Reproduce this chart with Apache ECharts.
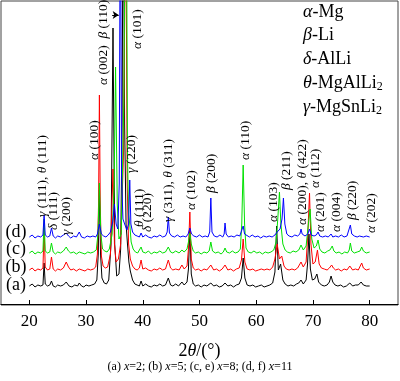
<!DOCTYPE html>
<html><head><meta charset="utf-8">
<script src="https://cdn.jsdelivr.net/npm/echarts@6/dist/echarts.min.js"></script>
<style>html,body{margin:0;padding:0;background:#fff}#c{width:400px;height:381px}</style>
</head><body><div id="c"></div>
<script>
// (a) x=2  black
const traceA = [[20,18],[20.5,20],[21,17],[21.5,19],[22,18],[22.4,19],[22.6,41],[22.8,20],[23.2,18],[23.6,19],[23.9,23],[24.2,18],[24.6,17],[25,19],[25.5,18],[26,19],[26.5,22],[27,18],[27.5,17],[28,19],[28.5,18],[28.8,21],[29.2,18],[29.6,17],[30,19],[30.5,18],[31,19],[31.5,20],[31.9,24],[32.15,50],[32.35,114],[32.55,50],[32.8,26],[33.2,21],[33.6,20],[34,24],[34.4,60],[34.75,276],[35.05,60],[35.4,28],[35.8,30],[36.1,55],[36.35,180],[36.55,450],[36.8,180],[37.05,80],[37.3,60],[37.55,42],[37.8,33],[38.2,24],[38.6,20],[39,19],[39.4,18],[39.7,23],[40,18],[40.5,20],[41,18],[41.5,17],[42,19],[42.5,18],[43,20],[43.5,18],[44,19],[44.5,26],[44.9,19],[45.3,18],[45.8,20],[46.3,18],[46.9,22],[47.3,19],[47.8,22],[48.05,35],[48.3,74],[48.55,30],[48.9,20],[49.3,18],[49.8,19],[50.3,17],[50.8,19],[51.3,18],[52,21],[52.5,18],[53,19],[53.5,17],[54,18],[54.5,21],[55,18],[55.5,19],[56,17],[56.5,19],[57,20],[57.4,26],[57.7,46],[58,26],[58.4,19],[58.9,18],[59.4,19],[59.9,17],[60.4,18],[60.9,19],[61.4,17],[61.9,18],[62.4,19],[62.9,21],[63.3,32],[63.6,78],[63.9,34],[64.3,40],[64.7,24],[65.1,20],[65.6,18],[66.1,19],[66.6,18],[67.1,20],[67.5,21],[67.9,24],[68.3,20],[68.8,24],[69.05,40],[69.3,70],[69.55,35],[69.9,24],[70.3,25],[70.7,30],[71.0,22],[71.5,19],[72,18],[72.5,19],[72.9,22],[73.2,28],[73.5,22],[73.9,19],[74.4,18],[74.9,19],[75.4,17],[75.9,18],[76.5,21],[77,18],[77.5,19],[78,19],[78.5,22],[78.9,19],[79.4,18],[80,18]];
// (b) x=5  red
const traceB = [[20,34],[20.5,36],[21,33],[21.5,35],[22,34],[22.4,36],[22.6,76],[22.8,37],[23.2,34],[23.6,35],[23.9,47],[24.2,35],[24.6,33],[25,35],[25.5,34],[26,36],[26.5,42],[26.9,37],[27.3,34],[27.8,35],[28.3,33],[28.8,35],[29.3,34],[29.8,33],[30.3,35],[30.8,34],[31.3,35],[31.7,37],[32.0,50],[32.2,100],[32.35,209],[32.5,100],[32.7,48],[33.0,38],[33.4,36],[33.8,37],[34.3,50],[34.75,135],[35.0,60],[35.3,42],[35.7,45],[36.1,60],[36.6,150],[37.0,420],[37.25,120],[37.5,60],[37.8,45],[38.2,38],[38.6,35],[39,34],[39.4,36],[39.7,44],[40,35],[40.5,36],[41,34],[41.5,33],[42,35],[42.5,34],[43,36],[43.5,34],[44,35],[44.5,44],[44.9,36],[45.3,34],[45.8,35],[46.4,34],[46.9,39],[47.3,35],[47.8,38],[48.05,55],[48.3,92],[48.55,45],[48.9,36],[49.3,34],[49.8,35],[50.3,33],[50.8,35],[51.3,34],[52,39],[52.5,34],[53,35],[53.5,33],[54,35],[54.5,39],[55,34],[55.5,35],[56,33],[56.5,35],[57,36],[57.4,44],[57.7,65],[58,42],[58.4,35],[58.9,34],[59.4,35],[59.9,33],[60.4,34],[60.9,35],[61.4,34],[61.9,35],[62.4,34],[62.9,37],[63.3,45],[63.7,60],[64.1,45],[64.5,48],[64.9,38],[65.3,35],[65.8,34],[66.3,35],[66.8,34],[67.3,36],[67.9,42],[68.3,37],[68.8,42],[69.1,70],[69.4,111],[69.65,60],[70.0,40],[70.4,42],[70.8,54],[71.1,40],[71.5,36],[72,35],[72.5,34],[72.9,36],[73.3,39],[73.6,36],[74,34],[74.5,35],[75,33],[75.5,35],[76,34],[76.5,38],[77,34],[77.5,35],[78,34],[78.3,36],[78.6,41],[78.9,36],[79.4,34],[80,35]];
// (c) x=8  green
const traceC = [[20,51],[20.5,53],[21,50],[21.5,52],[22,51],[22.4,53],[22.6,85],[22.8,53],[23.2,51],[23.6,52],[23.9,61],[24.2,52],[24.6,50],[25,52],[25.5,51],[26,53],[26.5,57],[26.9,53],[27.3,51],[27.8,52],[28.3,50],[28.8,52],[29.3,51],[29.8,50],[30.3,52],[30.8,51],[31.3,52],[31.8,54],[32.1,70],[32.35,121],[32.6,70],[32.9,55],[33.3,53],[33.7,52],[34.1,55],[34.6,70],[34.95,120],[35.2,237],[35.5,100],[35.8,65],[36.2,70],[36.65,200],[37.05,500],[37.3,150],[37.5,90],[37.7,80],[37.95,62],[38.3,55],[38.7,52],[39.1,51],[39.4,53],[39.7,57],[40,52],[40.5,51],[41,53],[41.5,50],[42,52],[42.5,51],[43,53],[43.5,51],[44,52],[44.5,57],[44.9,52],[45.3,51],[45.8,53],[46.4,51],[46.9,54],[47.3,52],[47.8,55],[48.05,62],[48.3,71],[48.55,60],[48.9,53],[49.3,51],[49.8,52],[50.3,50],[50.8,52],[51.3,51],[51.7,53],[52,62],[52.3,53],[52.8,51],[53.3,52],[53.8,50],[54.2,52],[54.5,56],[54.8,52],[55.3,51],[55.8,53],[56.3,51],[56.8,52],[57.2,55],[57.45,80],[57.7,139],[57.95,80],[58.2,56],[58.6,52],[59.1,51],[59.6,53],[60.1,51],[60.6,52],[61.1,50],[61.6,52],[62.1,51],[62.6,52],[63.1,54],[63.5,62],[63.8,85],[64.1,112],[64.35,80],[64.7,60],[65.1,54],[65.5,52],[66,51],[66.5,53],[67,52],[67.5,54],[67.9,59],[68.3,54],[68.8,58],[69.2,80],[69.5,95],[69.8,65],[70.2,56],[70.6,58],[70.9,64],[71.2,55],[71.6,52],[72.1,51],[72.6,53],[73.0,54],[73.4,58],[73.7,53],[74.1,51],[74.6,52],[75.1,50],[75.6,52],[76.1,51],[76.4,54],[76.6,61],[76.85,53],[77.3,51],[77.8,52],[78.3,53],[78.6,57],[78.9,53],[79.4,51],[80,52]];
// (d) x=11  blue
const traceD = [[20,67],[20.5,69],[21,66],[21.5,68],[22,67],[22.4,69],[22.6,89],[22.8,69],[23.2,67],[23.6,68],[23.9,76],[24.2,68],[24.6,66],[25,68],[25.5,67],[26,69],[26.5,71],[26.9,68],[27.3,66],[27.8,68],[28.3,67],[28.8,72],[29.2,67],[29.7,66],[30.2,68],[30.7,67],[31.2,68],[31.7,67],[32.0,70],[32.35,80],[32.7,70],[33.1,68],[33.5,67],[33.9,69],[34.3,72],[34.7,82],[35.0,100],[35.3,80],[35.6,75],[35.85,120],[36.05,450],[36.25,130],[36.5,85],[36.8,80],[37.2,74],[37.5,80],[37.7,124],[37.9,80],[38.2,72],[38.6,69],[39,68],[39.4,67],[39.7,71],[40,67],[40.5,69],[41,67],[41.5,66],[42,68],[42.5,67],[43,69],[43.5,67],[44,68],[44.3,72],[44.5,87],[44.7,71],[45.1,68],[45.6,67],[46.1,69],[46.6,67],[47.1,68],[47.6,67],[48,70],[48.3,76],[48.6,70],[49,68],[49.5,67],[50,69],[50.5,67],[51,68],[51.5,67],[51.8,72],[52.0,106],[52.2,72],[52.6,68],[53.1,67],[53.6,69],[54.1,67],[54.35,70],[54.5,81],[54.7,70],[55.1,67],[55.6,68],[56.1,67],[56.6,69],[57.1,68],[57.45,70],[57.7,78],[57.95,70],[58.3,68],[58.8,67],[59.3,69],[59.8,67],[60.3,68],[60.8,66],[61.3,68],[61.8,67],[62.3,68],[62.8,67],[63.3,69],[63.7,72],[64.2,75],[64.55,85],[64.8,106],[65.05,80],[65.4,70],[65.8,68],[66.3,67],[66.8,69],[67.3,68],[67.7,70],[67.9,75],[68.1,70],[68.6,68],[69.1,70],[69.4,75],[69.7,69],[70.2,68],[70.6,69],[70.9,72],[71.2,68],[71.7,67],[72.2,68],[72.7,67],[73.2,70],[73.5,67],[74,68],[74.5,67],[75,69],[75.5,67],[76,68],[76.35,70],[76.6,79],[76.85,70],[77.3,68],[77.8,67],[78.2,68],[78.5,69],[78.9,67],[79.4,68],[80,67]];

const xTicks = [20, 30, 40, 50, 60, 70, 80];
const traceColors = ['#000000', '#ff0000', '#00e000', '#0000ff'];
const traceTags = [[17.65, 19, '(a)'], [17.65, 37, '(b)'], [17.65, 55, '(c)'], [17.65, 72, '(d)']];
// [2θ, intensity at label start, text]
const peakLabels = [
  [22.32, 87, '{g|γ} (111), {g|θ} (111)'],
  [24.26, 74, '{g|δ} (111)'],
  [26.55, 69, '{g|γ} (200)'],
  [31.40, 144, '{g|α} (100)'],
  [32.98, 219, '{g|α} (002)  {g|β} (110)'],
  [39.07, 255, '{g|α} (101)'],
  [37.92, 131, '{g|γ} (220)'],
  [39.33, 77, '{g|θ} (111)'],
  [40.74, 72, '{g|δ} (220)'],
  [44.45, 82, '{g|γ} (311), {g|θ} (311)'],
  [48.50, 94, '{g|α} (102)'],
  [52.12, 111, '{g|β} (200)'],
  [58.02, 144, '{g|α} (110)'],
  [62.96, 82, '{g|α} (103)'],
  [65.34, 114, '{g|β} (211)'],
  [68.07, 79, '{g|α} (200), {g|θ} (422)'],
  [70.37, 116, '{g|α} (112)'],
  [71.34, 72, '{g|α} (201)'],
  [74.07, 72, '{g|α} (004)'],
  [76.89, 84, '{g|β} (220)'],
  [80.24, 71, '{g|α} (202)']
];
const arrowCoords = [[34.6, 289], [35.75, 289]];
const legendItems = ['{g|α}-Mg', '{g|β}-Li', '{g|δ}-AlLi', '{g|θ}-MgAlLi{s|2}', '{g|γ}-MgSnLi{s|2}'];
const xName = '2{g|θ}/(°)';
const caption = '(a) {i|x}=2; (b) {i|x}=5; (c, e) {i|x}=8; (d, f) {i|x}=11';

const F = 'Liberation Serif, Times New Roman, serif';
const chart = echarts.init(document.getElementById('c'), null, {renderer: 'canvas'});

function textSeries(items, size, rot, align) {
  return {
    type: 'custom', silent: true, z: 10,
    data: items.map(d => [d[0], d[1]]),
    renderItem: function (params, api) {
      const p = api.coord([api.value(0), api.value(1)]);
      return {
        type: 'text', x: p[0], y: p[1], rotation: rot,
        style: {
          text: items[params.dataIndex][2], fill: '#000',
          fontFamily: F, fontSize: size, align: align, verticalAlign: 'middle',
          rich: {g: {fontStyle: 'italic', fontFamily: F, fontSize: size}}
        }
      };
    }
  };
}

const lineSeries = [traceA, traceB, traceC, traceD].map((d, i) => ({
  type: 'line', data: d, showSymbol: false, symbol: 'none', silent: true,
  lineStyle: {color: traceColors[i], width: 1}, clip: true, z: 2 + i
}));

chart.setOption({
  animation: false,
  backgroundColor: '#ffffff',
  grid: {left: 1, right: 2, top: 1, bottom: 76, show: true, borderColor: '#444', borderWidth: 1, outerBoundsMode: 'none'},
  xAxis: {
    type: 'value', min: 15, max: 85,
    axisLine: {show: true, lineStyle: {color: '#000', width: 1}},
    axisTick: {show: true, inside: true, length: 4, customValues: xTicks, lineStyle: {color: '#000'}},
    axisLabel: {customValues: xTicks, fontFamily: F, fontSize: 17, color: '#000', margin: 8},
    splitLine: {show: false},
    name: xName, nameLocation: 'middle', nameGap: 37,
    nameTextStyle: {fontFamily: F, fontSize: 18, color: '#000', rich: {g: {fontStyle: 'italic', fontFamily: F, fontSize: 18}}}
  },
  yAxis: {type: 'value', min: -1, max: 303, show: false, splitLine: {show: false}},
  graphic: [
    ...legendItems.map((t, i) => ({
      type: 'text', x: 303, y: [12, 35, 59, 83, 107][i], silent: true,
      style: {text: t, fontFamily: F, fontSize: 18, fill: '#000', verticalAlign: 'middle',
        rich: {g: {fontStyle: 'italic', fontFamily: F, fontSize: 18, height: 20},
               s: {fontFamily: F, fontSize: 12, verticalAlign: 'bottom', height: 20, padding: [8, 0, 0, 0]}}}
    })),
    {type: 'text', x: 200, y: 367, silent: true,
     style: {text: caption, fontFamily: F, fontSize: 12, fill: '#000', align: 'center', verticalAlign: 'middle',
       rich: {i: {fontStyle: 'italic', fontFamily: F, fontSize: 12}}}}
  ],
  series: [
    ...lineSeries,
    textSeries(peakLabels, 13.5, Math.PI / 2, 'left'),
    textSeries(traceTags, 18, 0, 'center'),
    {type: 'lines', coordinateSystem: 'cartesian2d', silent: true, z: 10,
     symbol: ['none', 'arrow'], symbolSize: 6,
     lineStyle: {color: '#000', width: 1, opacity: 1},
     data: [{coords: arrowCoords}]}
  ]
});
</script></body></html>
